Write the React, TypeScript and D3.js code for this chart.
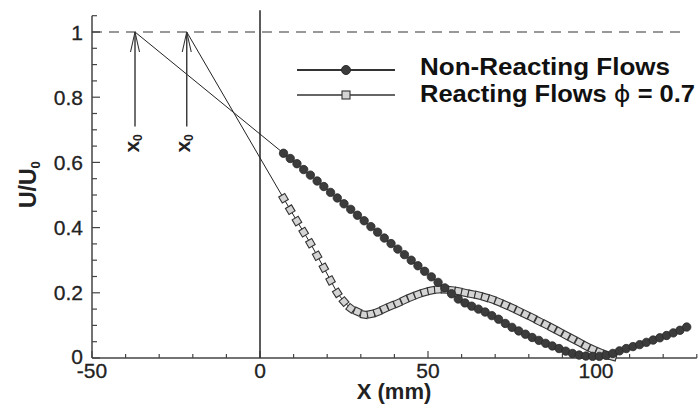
import React, { useEffect, useRef } from "react";
import * as d3 from "d3";

// non-reacting flow, U/U0 along the axis
const nonReactX = [
  7, 9, 11, 13, 15, 17, 19, 21, 23, 25, 27, 29, 31, 33, 35, 37, 39, 41, 43, 45,
  47, 49, 51, 53, 55, 57, 59, 61, 63, 65, 67, 69, 71, 73, 75, 77, 79, 81, 83, 85,
  87, 89, 91, 93, 95, 97, 99, 101, 103, 105, 107, 109, 111, 113, 115, 117, 119,
  121, 123, 125, 127,
];
const nonReactU = [
  0.628, 0.612, 0.596, 0.578, 0.561, 0.543, 0.526, 0.508, 0.491, 0.473, 0.456,
  0.438, 0.421, 0.403, 0.386, 0.368, 0.351, 0.334, 0.317, 0.3, 0.283, 0.266,
  0.249, 0.232, 0.215, 0.197, 0.181, 0.169, 0.159, 0.15, 0.141, 0.13, 0.119,
  0.106, 0.094, 0.083, 0.073, 0.063, 0.054, 0.045, 0.037, 0.029, 0.021, 0.014,
  0.009, 0.006, 0.005, 0.005, 0.008, 0.014, 0.022, 0.029, 0.035, 0.041, 0.048,
  0.055, 0.062, 0.069, 0.077, 0.085, 0.095,
];

// reacting flow, phi = 0.7
const reactX = [
  7, 9, 11, 13, 15, 17, 19, 21, 23, 25, 27, 29, 31, 33, 35, 37, 39, 41, 43, 45,
  47, 49, 51, 53, 55, 57, 59, 61, 63, 65, 67, 69, 71, 73, 75, 77, 79, 81, 83, 85,
  87, 89, 91, 93, 95, 97, 99, 101, 103, 105,
];
const reactU = [
  0.49, 0.455, 0.42, 0.386, 0.352, 0.314, 0.277, 0.238, 0.2, 0.173, 0.152,
  0.142, 0.133, 0.135, 0.141, 0.151, 0.16, 0.168, 0.178, 0.187, 0.195, 0.202,
  0.207, 0.21, 0.21, 0.208, 0.205, 0.2, 0.196, 0.192, 0.186, 0.18, 0.172,
  0.163, 0.154, 0.144, 0.134, 0.124, 0.113, 0.103, 0.092, 0.081, 0.07, 0.059,
  0.048, 0.037, 0.027, 0.018, 0.01, 0.004,
];

// virtual origins x0 (non-reacting, reacting)
const virtualOrigins = [-37.2, -21.8];

const xMajor = [-50, 0, 50, 100];
const xMinor = [-40, -30, -20, -10, 10, 20, 30, 40, 60, 70, 80, 90, 110, 120, 130];
const yMajor = [0, 0.2, 0.4, 0.6, 0.8, 1];
const yLabels = ["0", "0.2", "0.4", "0.6", "0.8", "1"];
const yMinor = [0.05, 0.1, 0.15, 0.25, 0.3, 0.35, 0.45, 0.5, 0.55, 0.65, 0.7, 0.75, 0.85, 0.9, 0.95, 1.05];

const W = 700;
const H = 408;
const FONT = "'Liberation Sans', Arial, sans-serif";

function App() {
  const svgRef = useRef(null);

  useEffect(() => {
    const svg = d3.select(svgRef.current);
    svg.selectAll("*").remove();

    const x = d3.scaleLinear().domain([-50, 130]).range([92, 696.8]);
    const y = d3.scaleLinear().domain([0, 1.05]).range([358, 15.7]);
    const axisColor = "#444";

    // axes
    const g = svg.append("g");
    g.append("line")
      .attr("x1", x(-50)).attr("x2", x(130))
      .attr("y1", y(0)).attr("y2", y(0))
      .attr("stroke", axisColor).attr("stroke-width", 1.5);
    g.append("line")
      .attr("x1", x(-50)).attr("x2", x(-50))
      .attr("y1", y(0)).attr("y2", y(1.05))
      .attr("stroke", axisColor).attr("stroke-width", 1.5);

    g.selectAll(".xmaj").data(xMajor).join("line")
      .attr("x1", (d) => x(d)).attr("x2", (d) => x(d))
      .attr("y1", y(0)).attr("y2", y(0) - 7)
      .attr("stroke", axisColor).attr("stroke-width", 1.2);
    g.selectAll(".xmin").data(xMinor).join("line")
      .attr("x1", (d) => x(d)).attr("x2", (d) => x(d))
      .attr("y1", y(0)).attr("y2", y(0) - 4)
      .attr("stroke", axisColor).attr("stroke-width", 1.2);
    g.selectAll(".ymaj").data(yMajor).join("line")
      .attr("x1", x(-50)).attr("x2", x(-50) + 8)
      .attr("y1", (d) => y(d)).attr("y2", (d) => y(d))
      .attr("stroke", axisColor).attr("stroke-width", 1.2);
    g.selectAll(".ymin").data(yMinor).join("line")
      .attr("x1", x(-50)).attr("x2", x(-50) + 5)
      .attr("y1", (d) => y(d)).attr("y2", (d) => y(d))
      .attr("stroke", axisColor).attr("stroke-width", 1.2);

    g.selectAll(".xlab").data(xMajor).join("text")
      .attr("x", (d) => x(d)).attr("y", y(0) + 20)
      .attr("text-anchor", "middle")
      .attr("font-family", FONT).attr("font-size", 21)
      .attr("fill", "#222").attr("stroke", "#222").attr("stroke-width", 0.3)
      .text((d) => String(d));
    g.selectAll(".ylab").data(yMajor).join("text")
      .attr("x", 83).attr("y", (d) => y(d) - (d === 0 ? 2 : 0))
      .attr("dy", "0.36em")
      .attr("text-anchor", "end")
      .attr("font-family", FONT).attr("font-size", 21)
      .attr("fill", "#222").attr("stroke", "#222").attr("stroke-width", 0.3)
      .text((d, i) => yLabels[i]);

    g.append("text")
      .attr("x", 394).attr("y", 399)
      .attr("text-anchor", "middle")
      .attr("font-family", FONT).attr("font-size", 22).attr("font-weight", "bold")
      .attr("fill", "#222")
      .text("X (mm)");

    const yt = g.append("text")
      .attr("transform", "translate(36,208) rotate(-90)")
      .attr("font-family", FONT).attr("font-size", 23).attr("font-weight", "bold")
      .attr("fill", "#222");
    yt.append("tspan").text("U/U");
    yt.append("tspan").attr("font-size", 13).attr("dy", 4).text("0");

    // reference lines
    g.append("line")
      .attr("x1", x(-50)).attr("x2", 680)
      .attr("y1", y(1)).attr("y2", y(1))
      .attr("stroke", "#333").attr("stroke-width", 1.2)
      .attr("stroke-dasharray", "10,7");
    g.append("line")
      .attr("x1", x(0)).attr("x2", x(0))
      .attr("y1", y(0)).attr("y2", y(1.067))
      .attr("stroke", "#333").attr("stroke-width", 1.6);

    // virtual origin arrows and extrapolation lines
    const firsts = [
      [nonReactX[0], nonReactU[0]],
      [reactX[0], reactU[0]],
    ];
    virtualOrigins.forEach((x0, i) => {
      const px = x(x0);
      const tip = y(1);
      g.append("line")
        .attr("x1", px).attr("x2", x(firsts[i][0]))
        .attr("y1", tip).attr("y2", y(firsts[i][1]))
        .attr("stroke", "#222").attr("stroke-width", 1);
      g.append("line")
        .attr("x1", px).attr("x2", px)
        .attr("y1", y(0.71)).attr("y2", tip)
        .attr("stroke", "#333").attr("stroke-width", 1.4);
      g.append("path")
        .attr("d", `M${px - 4.5},${tip + 20}L${px},${tip}L${px + 4.5},${tip + 20}`)
        .attr("fill", "none").attr("stroke", "#333").attr("stroke-width", 1.1);
      const lt = g.append("text")
        .attr("transform", `translate(${px + 3.5},${y(0.63)}) rotate(-90)`)
        .attr("font-family", FONT).attr("font-size", 21).attr("font-weight", "bold")
        .attr("fill", "#222");
      lt.append("tspan").text("x");
      lt.append("tspan").attr("font-size", 12).attr("dy", 3).text("0");
    });

    // reacting series: line + squares
    const reactPts = reactX.map((d, i) => [x(d), y(reactU[i])]);
    g.append("path")
      .attr("d", d3.line()(reactPts))
      .attr("fill", "none").attr("stroke", "#222").attr("stroke-width", 1);
    const s = 7;
    g.selectAll(".sq").data(reactPts).join("rect")
      .attr("x", -s / 2).attr("y", -s / 2)
      .attr("width", s).attr("height", s)
      .attr("transform", (d, i) => {
        const a = reactPts[Math.max(0, i - 1)];
        const b = reactPts[Math.min(reactPts.length - 1, i + 1)];
        const ang = (Math.atan2(b[1] - a[1], b[0] - a[0]) * 180) / Math.PI;
        return `translate(${d[0]},${d[1]}) rotate(${ang})`;
      })
      .attr("fill", "#d4d4d4").attr("stroke", "#333").attr("stroke-width", 1.1);

    // non-reacting series: line + circles
    const nonPts = nonReactX.map((d, i) => [x(d), y(nonReactU[i])]);
    g.append("path")
      .attr("d", d3.line()(nonPts))
      .attr("fill", "none").attr("stroke", "#222").attr("stroke-width", 1);
    g.selectAll(".ci").data(nonPts).join("circle")
      .attr("cx", (d) => d[0]).attr("cy", (d) => d[1])
      .attr("r", 4.2)
      .attr("fill", "#3c3c3c").attr("stroke", "#2a2a2a").attr("stroke-width", 0.8);

    // legend
    const leg = g.append("g");
    leg.append("line")
      .attr("x1", 297).attr("x2", 395).attr("y1", 70).attr("y2", 70)
      .attr("stroke", "#333").attr("stroke-width", 2);
    leg.append("circle")
      .attr("cx", 346).attr("cy", 70).attr("r", 4.5)
      .attr("fill", "#3c3c3c").attr("stroke", "#2a2a2a");
    leg.append("line")
      .attr("x1", 297).attr("x2", 395).attr("y1", 95).attr("y2", 95)
      .attr("stroke", "#666").attr("stroke-width", 2);
    leg.append("rect")
      .attr("x", 346 - 4).attr("y", 95 - 4).attr("width", 8).attr("height", 8)
      .attr("fill", "#d4d4d4").attr("stroke", "#333").attr("stroke-width", 1.1);
    leg.append("text")
      .attr("x", 420).attr("y", 75)
      .attr("font-family", FONT).attr("font-size", 23).attr("font-weight", "bold")
      .attr("fill", "#111")
      .attr("textLength", 250).attr("lengthAdjust", "spacingAndGlyphs")
      .text("Non-Reacting Flows");
    const l2 = leg.append("text")
      .attr("x", 420).attr("y", 102)
      .attr("font-family", FONT).attr("font-size", 23).attr("font-weight", "bold")
      .attr("fill", "#111")
      .attr("textLength", 275).attr("lengthAdjust", "spacingAndGlyphs");
    l2.append("tspan").text("Reacting Flows ");
    l2.append("tspan").attr("font-weight", "normal").attr("font-family", "'DejaVu Sans', sans-serif").text("\u03D5");
    l2.append("tspan").text(" = 0.7");
  }, []);

  return (
    <svg
      ref={svgRef}
      width={W}
      height={H}
      style={{ position: "absolute", left: 0, top: 0, background: "#fff" }}
    />
  );
}

export default App;
